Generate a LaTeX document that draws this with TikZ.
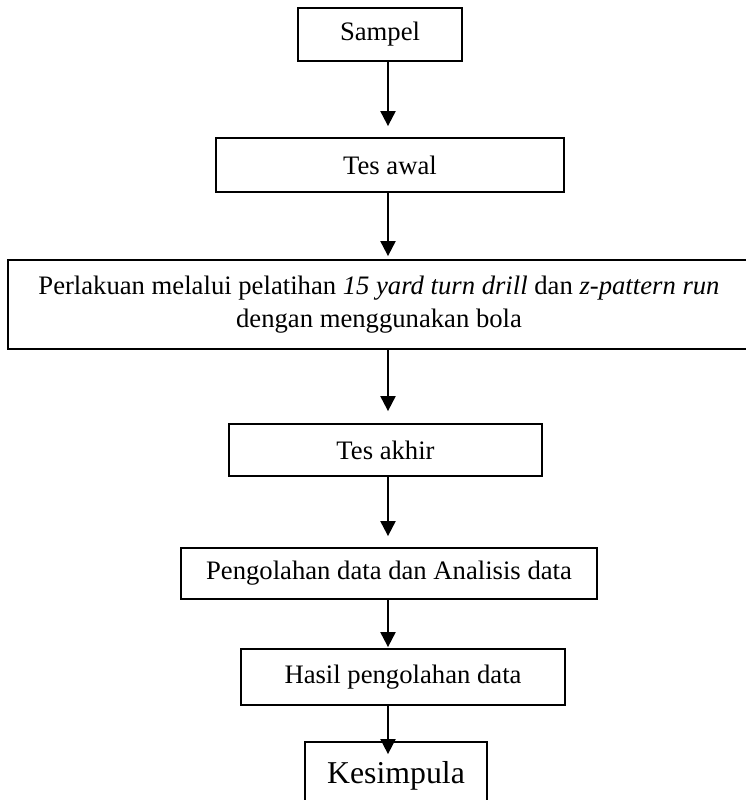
\documentclass[tikz,border=0pt]{standalone}
\usepackage{fontspec}
\setmainfont{Liberation Serif}
\usetikzlibrary{arrows.meta}

\begin{document}
\begin{tikzpicture}[x=0.45pt,y=-0.45pt]
    \tikzstyle{every node}=[draw, line width=.8pt, inner sep=0, font=\fontsize{12}{14.85}\selectfont, align=center]
    \tikzstyle{flow}=[line width=.9pt, -{Triangle[width=6.75pt,length=6.75pt]}]
    % page of 745 x 800 px, y going down
    \useasboundingbox (0,0) rectangle (745,800);
    \coordinate (AX) at (388,0);
    \node[minimum width=73.8pt, minimum height=23.85pt] (SMP) at (380,34.5) {Sampel};
    \node[minimum width=156.6pt, minimum height=24.3pt] (TAW) at (390,165) {Tes awal};
    \node[minimum width=333.9pt, minimum height=40.05pt] (PRL) at (379,304.5) {Perlakuan melalui pelatihan \textit{15 yard turn drill} dan \textit{z-pattern run}\\dengan menggunakan bola};
    \node[minimum width=140.85pt, minimum height=23.4pt] (TAK) at (385.5,450) {Tes akhir};
    \node[minimum width=187.2pt, minimum height=22.95pt] (PGL) at (389,573.5) {Pengolahan data dan Analisis data};
    \node[minimum width=145.8pt, minimum height=25.2pt] (HSL) at (403,677) {Hasil pengolahan data};
    \node[minimum width=81.9pt, minimum height=30.6pt, font=\fontsize{14.3}{17}\selectfont] (KSM) at (396,776) {Kesimpula};
    \draw[flow, shorten >=4.95pt] (SMP.south -| AX) -- (TAW.north -| AX);
    \draw[flow, shorten >=1.35pt] (TAW.south -| AX) -- (PRL.north -| AX);
    \draw[flow, shorten >=5.4pt] (PRL.south -| AX) -- (TAK.north -| AX);
    \draw[flow, shorten >=4.95pt] (TAK.south -| AX) -- (PGL.north -| AX);
    \draw[flow, shorten >=0.45pt] (PGL.south -| AX) -- (HSL.north -| AX);
    \draw[flow, shorten >=-5.85pt] (HSL.south -| AX) -- (KSM.north -| AX);
\end{tikzpicture}
\end{document}
